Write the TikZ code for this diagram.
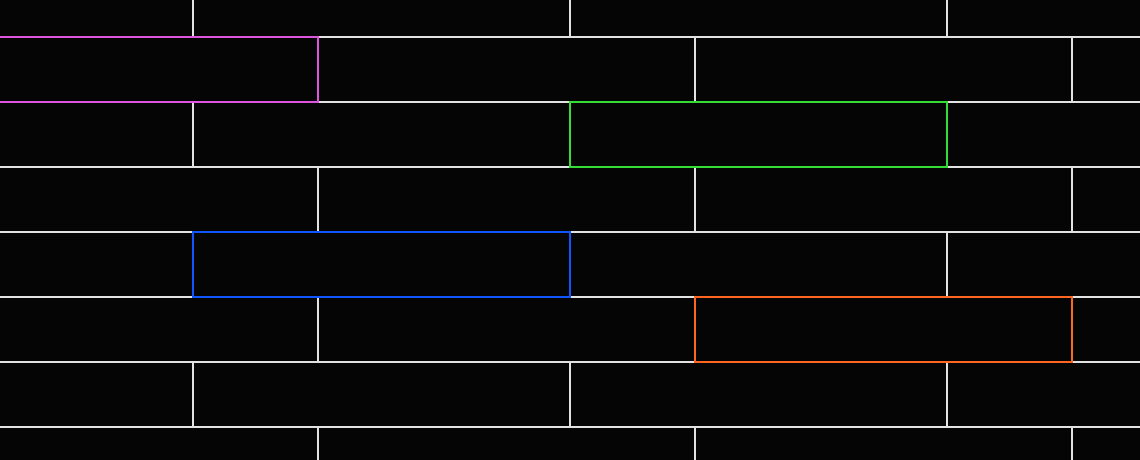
\documentclass[tikz,border=0pt]{standalone}
\usetikzlibrary{calc}

\definecolor{mortar}{HTML}{E2E2E2}
\definecolor{brickpink}{HTML}{DD55DD}
\definecolor{brickgreen}{HTML}{33DD33}
\definecolor{brickblue}{HTML}{1155FF}
\definecolor{brickorange}{HTML}{FF6622}

\begin{document}
\begin{tikzpicture}[x=0.02cm, y=-0.02cm, line width=0.9pt]
    \tikzset{
        joint/.style={mortar},
        marked/.style={line width=1.1pt}
    }

    % Constants
    \pgfmathsetmacro{\W}{377}   % brick length
    \pgfmathsetmacro{\H}{65}    % course height
    \pgfmathsetmacro{\yzero}{37}

    % Background
    \fill [black!98] (0,0) rectangle (1140,460);
    \useasboundingbox (0,0) rectangle (1140,460);

    % Bed joints
    \foreach \k in {0,...,6} {
        \draw [joint] (0, \yzero + \k*\H) -- (1140, \yzero + \k*\H);
    }

    % Head joints, even courses
    \foreach \k in {0,2,4,6} {
        \foreach \x in {193,570,947} {
            \draw [joint] (\x, \yzero + \k*\H - \H) -- (\x, \yzero + \k*\H);
        }
    }

    % Head joints, odd courses
    \foreach \k in {1,3,5,7} {
        \foreach \x in {318,695,1072} {
            \draw [joint] (\x, \yzero + \k*\H - \H) -- (\x, \yzero + \k*\H);
        }
    }

    % Marked bricks
    \draw [marked, brickpink]   (-59, 37)  rectangle (318, 102);
    \draw [marked, brickgreen]  (570, 102) rectangle (947, 167);
    \draw [marked, brickblue]   (193, 232) rectangle (570, 297);
    \draw [marked, brickorange] (695, 297) rectangle (1072, 362);

\end{tikzpicture}
\end{document}
